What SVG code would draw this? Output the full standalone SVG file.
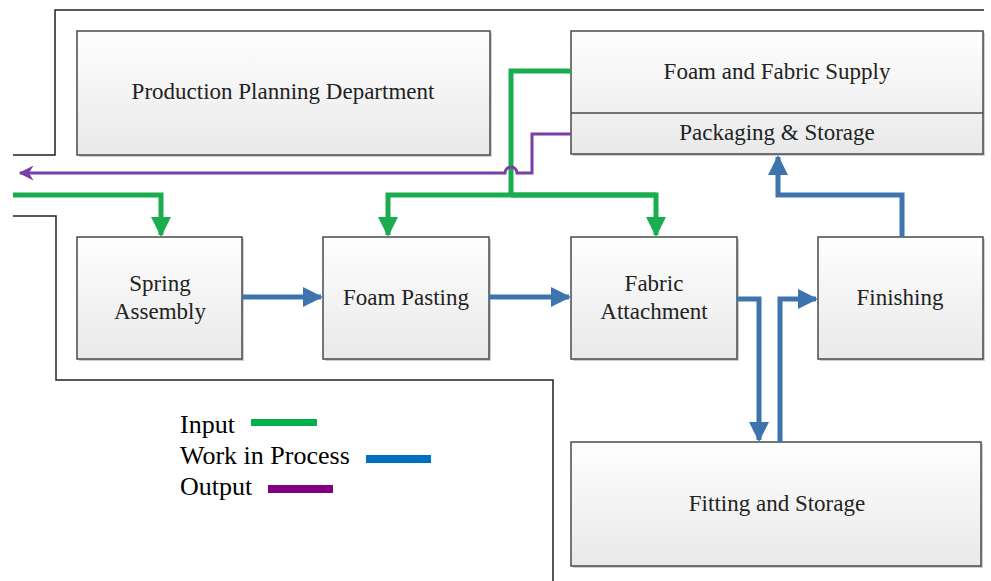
<svg xmlns="http://www.w3.org/2000/svg" width="991" height="581" viewBox="0 0 991 581">
  <defs>
    <linearGradient id="boxFill" x1="0" y1="0" x2="0" y2="1">
      <stop offset="0" stop-color="#fefefe"/>
      <stop offset="1" stop-color="#e9e9e9"/>
    </linearGradient>
    <marker id="arrGreen" viewBox="0 0 10 10" refX="9" refY="5" markerWidth="4" markerHeight="4" markerUnits="strokeWidth" orient="auto">
      <path d="M0,0 L10,5 L0,10 Z" fill="#1aad4f"/>
    </marker>
    <marker id="arrBlue" viewBox="0 0 10 10" refX="9" refY="5" markerWidth="4" markerHeight="4" markerUnits="strokeWidth" orient="auto">
      <path d="M0,0 L10,5 L0,10 Z" fill="#3e74ad"/>
    </marker>
    <marker id="arrPurple" viewBox="0 0 10 10" refX="9" refY="5" markerWidth="5" markerHeight="5" markerUnits="strokeWidth" orient="auto">
      <path d="M0,0 L10,5 L0,10 L3,5 Z" fill="#7a3fa6"/>
    </marker>
  </defs>
  <style>
    .box { fill: url(#boxFill); stroke: #4a4a4a; stroke-width: 1.5; }
    .shadow { fill: #cfcfcf; }
    text.lbl { font-family: "Liberation Serif", "Times New Roman", serif; font-size: 23px; fill: #222; text-anchor: middle; }
    text.leg { font-family: "Liberation Serif", "Times New Roman", serif; font-size: 26px; fill: #000; }
    .frame { fill: none; stroke: #222; stroke-width: 1.5; }
    .input { fill: none; stroke: #1aad4f; stroke-width: 5; }
    .wip { fill: none; stroke: #3e74ad; stroke-width: 5; }
    .output { fill: none; stroke: #7a3fa6; stroke-width: 3; }
  </style>
  <rect width="991" height="581" fill="#ffffff"/>

  <!-- enclosing frame lines -->
  <g id="frame">
    <path class="frame" d="M13,155 H55 V10 H984"/>
    <path class="frame" d="M13,216 H56 V380 H553 V581"/>
  </g>

  <!-- process nodes -->
  <g id="planning">
    <rect class="shadow" x="79" y="33" width="413" height="124"/>
    <rect class="box" x="77" y="31" width="413" height="124"/>
    <text class="lbl" x="283" y="99" font-family="Liberation Serif, serif">Production Planning Department</text>
  </g>
  <g id="supply">
    <rect class="shadow" x="573" y="33" width="412" height="123"/>
    <rect class="box" x="571" y="31" width="412" height="123"/>
    <line x1="571" y1="113" x2="983" y2="113" stroke="#4a4a4a" stroke-width="1.5"/>
    <text class="lbl" x="777" y="79">Foam and Fabric Supply</text>
    <text class="lbl" x="777" y="140">Packaging &amp; Storage</text>
  </g>
  <g id="spring">
    <rect class="shadow" x="79" y="239" width="165" height="122"/>
    <rect class="box" x="77" y="237" width="165" height="122"/>
    <text class="lbl" x="160" y="291">Spring</text>
    <text class="lbl" x="160" y="319">Assembly</text>
  </g>
  <g id="foam">
    <rect class="shadow" x="325" y="239" width="166" height="122"/>
    <rect class="box" x="323" y="237" width="166" height="122"/>
    <text class="lbl" x="406" y="305">Foam Pasting</text>
  </g>
  <g id="fabric">
    <rect class="shadow" x="573" y="239" width="166" height="122"/>
    <rect class="box" x="571" y="237" width="166" height="122"/>
    <text class="lbl" x="654" y="291">Fabric</text>
    <text class="lbl" x="654" y="319">Attachment</text>
  </g>
  <g id="finishing">
    <rect class="shadow" x="820" y="239" width="165" height="122"/>
    <rect class="box" x="818" y="237" width="165" height="122"/>
    <text class="lbl" x="900" y="305">Finishing</text>
  </g>
  <g id="fitting">
    <rect class="shadow" x="573" y="444" width="410" height="124"/>
    <rect class="box" x="571" y="442" width="410" height="124"/>
    <text class="lbl" x="777" y="511">Fitting and Storage</text>
  </g>

  <!-- legend -->
  <g id="legend">
    <text class="leg" x="180" y="433">Input</text>
    <rect x="251" y="419" width="66" height="7" fill="#00b050"/>
    <text class="leg" x="180" y="464">Work in Process</text>
    <rect x="366" y="455" width="65" height="8" fill="#0070c0"/>
    <text class="leg" x="180" y="495">Output</text>
    <rect x="268" y="485" width="65" height="8" fill="#800080"/>
  </g>

  <!-- connectors -->
  <g id="connectors">
    <!-- input supply lines -->
    <path class="input" d="M13,195 H161 V235" marker-end="url(#arrGreen)"/>
    <path class="input" d="M571,71 H511 V195"/>
    <path class="input" d="M656,195 H388 V235" marker-end="url(#arrGreen)"/>
    <path class="input" d="M511,195 H656 V235" marker-end="url(#arrGreen)"/>
    <!-- output line with hop over the supply line -->
    <path class="output" d="M571,134 H532 V173 H517 A6,6 0 0 0 505,173 H20" marker-end="url(#arrPurple)"/>
    <!-- work in process -->
    <path class="wip" d="M242,297 H321" marker-end="url(#arrBlue)"/>
    <path class="wip" d="M489,297 H569" marker-end="url(#arrBlue)"/>
    <path class="wip" d="M737,299 H759 V440" marker-end="url(#arrBlue)"/>
    <path class="wip" d="M780,442 V299 H816" marker-end="url(#arrBlue)"/>
    <path class="wip" d="M902,237 V195 H778 V157" marker-end="url(#arrBlue)"/>
  </g>
</svg>
